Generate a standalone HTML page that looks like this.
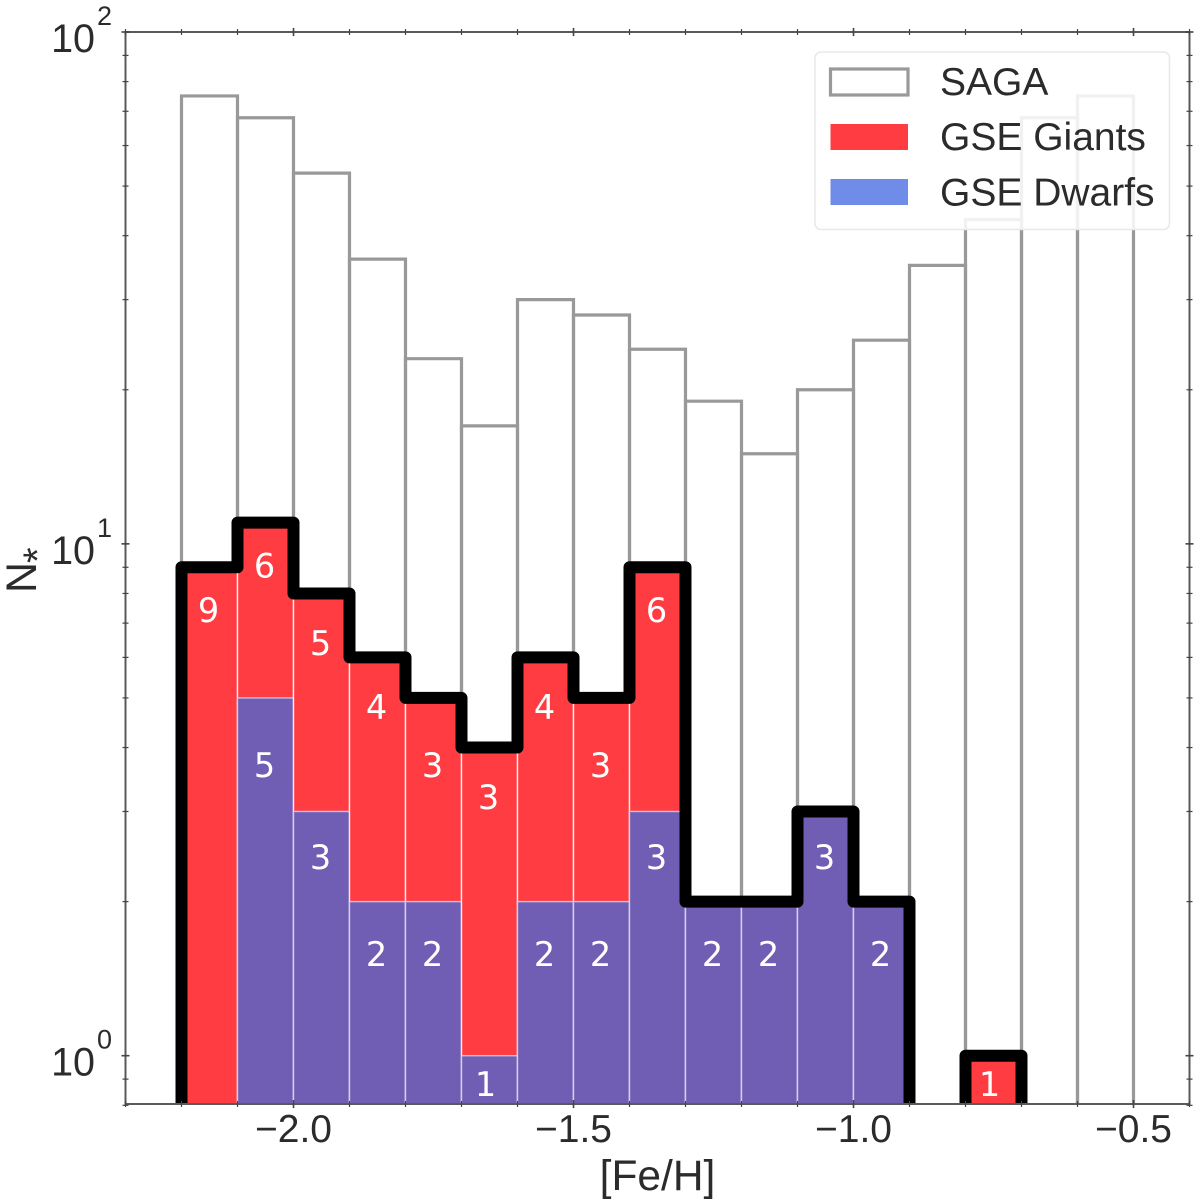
<!DOCTYPE html>
<html lang="en">
<head>
<meta charset="utf-8">
<title>[Fe/H] histogram</title>
<style>
html,body{margin:0;padding:0;background:#fff;}
svg{display:block;filter:blur(0.35px);}
text{font-family:"Liberation Sans",Arial,sans-serif;fill:#2b2b2b;}
.bar-label{font-family:"DejaVu Sans","Liberation Sans",sans-serif;fill:#fff;font-size:33.5px;text-anchor:middle;}
</style>
</head>
<body>
<svg id="chart" xmlns="http://www.w3.org/2000/svg" width="1200" height="1203" viewBox="0 0 1200 1203">
  <defs>
    <clipPath id="plot-clip"><rect x="125.5" y="32" width="1064" height="1072"/></clipPath>
  </defs>
  <rect x="0" y="0" width="1200" height="1203" fill="#fff"/>
  <g id="saga-bars" clip-path="url(#plot-clip)"></g>
  <g id="gse-bars" clip-path="url(#plot-clip)"></g>
  <g id="outline" clip-path="url(#plot-clip)"></g>
  <g id="bar-labels"></g>
  <g id="axes"></g>
  <g>
    <rect x="815" y="52" width="354.5" height="177.5" rx="6" ry="6" fill="#fff" fill-opacity="0.86" stroke="#e8e8e8" stroke-width="1.5"/>
    <rect x="830.5" y="69" width="77.5" height="26" fill="none" stroke="#999" stroke-width="3.2"/>
    <rect x="830.5" y="124" width="77.5" height="26" fill="#ff3c41"/>
    <rect x="830.5" y="179" width="77.5" height="26" fill="#6f8ce8"/>
    <text x="940" y="95" font-size="39">SAGA</text>
    <text x="940" y="150" font-size="39">GSE Giants</text>
    <text x="940" y="205.5" font-size="39">GSE Dwarfs</text>
  </g>
  <text x="657.5" y="1190" font-size="42.5" text-anchor="middle">[Fe/H]</text>
  <g transform="translate(36,593) rotate(-90)">
    <text x="0" y="0" font-size="43">N</text>
    <text x="30" y="15" font-size="40">*</text>
  </g>
</svg>
<script>
// Chart data
const binStarts = [-2.2,-2.1,-2.0,-1.9,-1.8,-1.7,-1.6,-1.5,-1.4,-1.3,-1.2,-1.1,-1.0,-0.9,-0.8,-0.7,-0.6];
const sagaCounts = [75,68,53,36,23,17,30,28,24,19,15,20,25,35,43,68,75];
const giantCounts = [9,6,5,4,3,3,4,3,6,0,0,0,0,0,1,0,0];
const dwarfCounts = [0,5,3,2,2,1,2,2,3,2,2,3,2,0,0,0,0];
const xTickLabels = [-2.0,-1.5,-1.0,-0.5];
const xMinorTicks = [-2.3,-2.2,-2.1,-1.9,-1.8,-1.7,-1.6,-1.4,-1.3,-1.2,-1.1,-0.9,-0.8,-0.7,-0.6,-0.4];
const yDecades = [0,1,2];
const yMinorMultipliers = [2,3,4,5,6,7,8,9];
const binWidth = 0.1;

// Axis functions
const xMin = -2.3, xMax = -0.4, yMin = 0.8, yMax = 100;
const plotLeft = 125.5, plotRight = 1189.5, plotTop = 32, plotBottom = 1104;
function xScale(v){ return plotLeft + (v - xMin) / (xMax - xMin) * (plotRight - plotLeft); }
function yScale(v){ return 1055.7 - 511.85 * Math.log10(v); }
function yFloor(v){ return v > 0 ? yScale(v) : plotBottom + 30; }
function labelAnchor(n){
  if (n === 1) return 0.88;
  if (n === 2) return 0.79;
  if (n === 3) return 0.815;
  if (n === 5) return 0.74;
  if (n >= 9) return 0.825;
  return 0.8;
}

const NS = 'http://www.w3.org/2000/svg';
function mk(tag, parentId){
  const el = document.createElementNS(NS, tag);
  document.getElementById(parentId).appendChild(el);
  return el;
}
function setAll(el, pairs){
  for (const k in pairs) el.setAttribute(k, pairs[k]);
}

binStarts.forEach(function(start, i){
  const x0 = xScale(start), x1 = xScale(start + binWidth);
  // SAGA outline
  const saga = mk('path', 'saga-bars');
  
  
  const st = yScale(sagaCounts[i]);
  setAll(saga, {d:'M'+x0+' '+(plotBottom+10)+'V'+st+'H'+x1+'V'+(plotBottom+10), fill:'none', stroke:'#999', 'stroke-width':3.2});

  const total = giantCounts[i] + dwarfCounts[i];
  if (total > 0) {
    const giant = mk('rect', 'gse-bars');
    
    
    setAll(giant, {x:x0, y:yScale(total), width:x1-x0, height:plotBottom-yScale(total), fill:'#ff3c41', stroke:'#fff', 'stroke-opacity':0.85, 'stroke-width':1.4});
  }
  if (dwarfCounts[i] > 0) {
    const dwarf = mk('rect', 'gse-bars');
    
    
    setAll(dwarf, {x:x0, y:yScale(dwarfCounts[i]), width:x1-x0, height:plotBottom-yScale(dwarfCounts[i]), fill:'#705eb5', stroke:'#d9d3ee', 'stroke-opacity':0.85, 'stroke-width':1.4});
  }
  const cx = (x0 + x1) / 2 - 1;
  if (giantCounts[i] > 0) {
    const t = mk('text', 'bar-labels');
    
    
    t.setAttribute('class', 'bar-label');
    setAll(t, {x:cx - (giantCounts[i] === 1 ? 3 : 0), y:yScale(total * labelAnchor(total)) + 12});
    t.textContent = giantCounts[i];
  }
  if (dwarfCounts[i] > 0) {
    const t = mk('text', 'bar-labels');
    
    
    t.setAttribute('class', 'bar-label');
    setAll(t, {x:cx - (dwarfCounts[i] === 1 ? 3 : 0), y:yScale(dwarfCounts[i] * labelAnchor(dwarfCounts[i])) + 12});
    t.textContent = dwarfCounts[i];
  }
});

// Black total outline
let d = 'M' + xScale(binStarts[0]) + ' ' + (plotBottom + 30);
binStarts.forEach(function(start, i){
  const y = yFloor(giantCounts[i] + dwarfCounts[i]);
  d += 'V' + y + 'H' + xScale(start + binWidth);
});
d += 'V' + (plotBottom + 30);
const outline = mk('path', 'outline');


setAll(outline, {d:d, fill:'none', stroke:'#000', 'stroke-width':12, 'stroke-linejoin':'round'});

// Spines
const spine = mk('rect', 'axes');


setAll(spine, {x:plotLeft, y:plotTop, width:plotRight-plotLeft, height:plotBottom-plotTop, fill:'none', stroke:'#5a5a5a', 'stroke-width':2});

function tick(x1, y1, x2, y2, w){
  const l = mk('line', 'axes');
  
  
  setAll(l, {x1:x1, y1:y1, x2:x2, y2:y2, stroke:'#444', 'stroke-width':w});
}
// X ticks
xTickLabels.forEach(function(v){
  const x = xScale(v);
  tick(x, plotTop-4, x, plotTop+4, 1.6);
  tick(x, plotBottom-4, x, plotBottom+4, 1.6);
  const t = mk('text', 'axes');
  
  
  setAll(t, {x:x, y:1142, 'font-size':39, 'text-anchor':'middle'});
  t.textContent = '\u2212' + Math.abs(v).toFixed(1);
});
xMinorTicks.forEach(function(v){
  const x = xScale(v);
  tick(x, plotTop-3, x, plotTop+3, 1.2);
  tick(x, plotBottom-3, x, plotBottom+3, 1.2);
});
// Y ticks
yDecades.forEach(function(e){
  const y = yScale(Math.pow(10, e));
  tick(plotLeft-4, y, plotLeft+4, y, 1.6);
  tick(plotRight-4, y, plotRight+4, y, 1.6);
  const t = mk('text', 'axes');
  
  
  setAll(t, {x:95, y:y+20, 'font-size':39.5, 'text-anchor':'end'});
  t.textContent = '10';
  const s = mk('text', 'axes');
  
  
  setAll(s, {x:97, y:y-7, 'font-size':27});
  s.textContent = e;
  if (e === 2) return;
  yMinorMultipliers.forEach(function(m){
    const ym = yScale(m * Math.pow(10, e));
    tick(plotLeft-3, ym, plotLeft+3, ym, 1.2);
    tick(plotRight-3, ym, plotRight+3, ym, 1.2);
  });
});
[0.8, 0.9].forEach(function(v){
  const ym = yScale(v);
  tick(plotLeft-3, ym, plotLeft+3, ym, 1.2);
  tick(plotRight-3, ym, plotRight+3, ym, 1.2);
});
</script>
</body>
</html>
